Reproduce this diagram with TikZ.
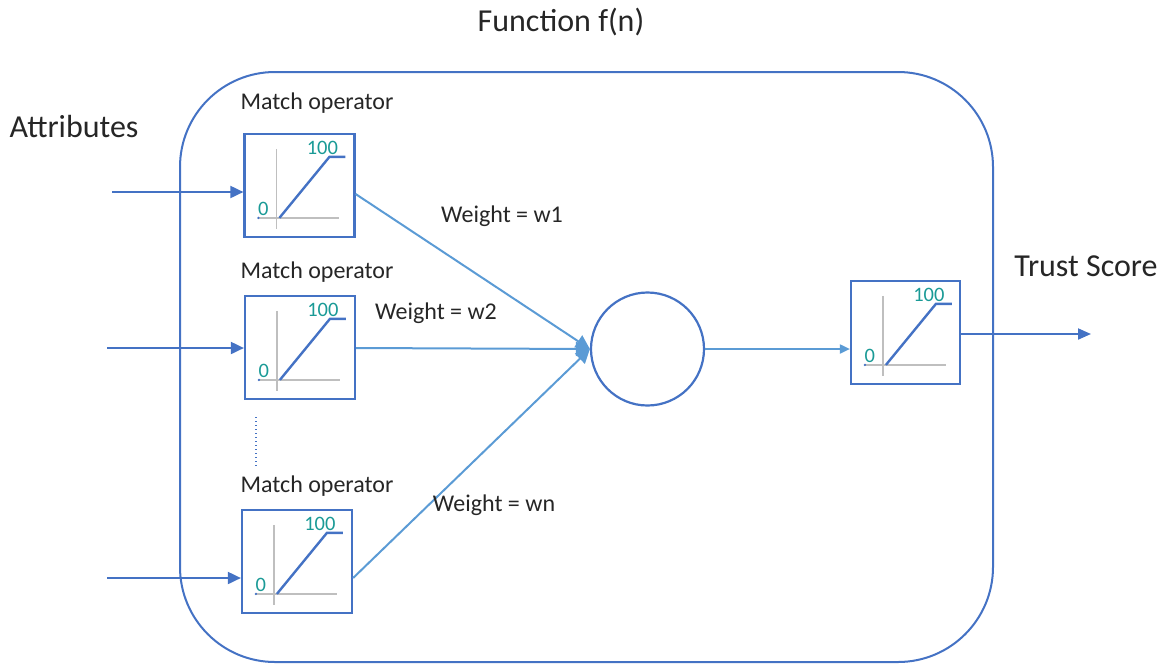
\documentclass[tikz,border=0pt]{standalone}
\usepackage{fontspec}
\setmainfont{Carlito}
\usetikzlibrary{arrows.meta}

\definecolor{darkblue}{HTML}{4472C4}
\definecolor{lightblue}{HTML}{5B9BD5}
\definecolor{axisgray}{HTML}{BFBFBF}
\definecolor{numteal}{HTML}{1A9A96}
\definecolor{ink}{HTML}{262626}

\tikzset{
  frame/.style={draw=darkblue, line width=2pt, rounded corners=95pt},
  opbox/.style={draw=darkblue, line width=2.2pt, minimum width=110pt, minimum height=103pt, inner sep=0pt},
  sumnode/.style={circle, draw=darkblue, line width=2.2pt, minimum size=113pt, inner sep=0pt},
  bigtext/.style={text=ink, font=\fontsize{32}{38}\selectfont, inner sep=0pt},
  labtext/.style={text=ink, font=\fontsize{24}{29}\selectfont, inner sep=0pt},
  numtext/.style={text=numteal, font=\fontsize{20.5}{24}\selectfont, inner sep=0pt},
  inarrow/.style={draw=darkblue, line width=1.9pt, -{Triangle[length=13pt,width=12pt]}},
  outarrow/.style={draw=darkblue, line width=1.9pt, -{Triangle[length=13pt,width=11pt]}},
  weightarrow/.style={draw=lightblue, line width=2pt, -{Triangle[length=14pt,width=14pt]}},
  sumarrow/.style={draw=lightblue, line width=1.9pt, -{Triangle[length=10pt,width=9pt]}},
  axisline/.style={draw=axisgray, line width=1.6pt},
  rampline/.style={draw=darkblue, line width=2.4pt},
  ramp/.pic={
    \draw[axisline] (33,16) -- (33,96);
    \draw[axisline] (15,85) -- (96,85);
    \fill[darkblue] (15,85) circle (1.3);
    \draw[rampline] (36,85) -- (86,24) -- (102,24);
    \node[numtext] at (79,15) {100};
    \node[numtext] at (20,76) {0};
  }
}

\begin{document}
\begin{tikzpicture}[x=1pt, y=-1pt]
\useasboundingbox (0,0) rectangle (1164,665);

% enclosing function block
\draw[frame] (180,72) rectangle (993,662);

% headings
\node[bigtext] (title) at (561,22) {Function f(n)};
\node[bigtext] (attr) at (74,127) {Attributes};
\node[bigtext] (trust) at (1086,266) {Trust Score};

% match operators
\node[labtext] (lab1) at (317,103) {Match operator};
\node[labtext] (lab2) at (317,272) {Match operator};
\node[labtext] (lab3) at (317,486) {Match operator};

\node[opbox] (m1) at (299.5,185.5) {};
\node[opbox] (m2) at (300,347.5) {};
\node[opbox] (m3) at (297,561.5) {};
\pic at (m1.north west) {ramp};
\pic at (m2.north west) {ramp};
\pic at (m3.north west) {ramp};

% elided operators
\draw[darkblue, line width=1.3pt, dash pattern=on 1.3pt off 2.7pt] (256,417) -- (256,466);

% summing node and output operator
\node[sumnode] (sum) at (647.5,349) {};
\node[opbox, minimum width=109pt] (out) at (905.5,332.5) {};
\pic at (out.north west) {ramp};

% attribute inputs
\coordinate (in1) at (112,192);
\coordinate (in2) at (107,348);
\coordinate (in3) at (107,578);
\draw[inarrow] (in1) -- (in1 -| m1.west);
\draw[inarrow] (in2) -- (in2 -| m2.west);
\draw[inarrow] (in3) -- (in3 -| m3.west);

% weighted connections
\coordinate (w1) at (355,194);
\coordinate (w2) at (353,348);
\coordinate (w3) at (353,578);
\draw[weightarrow] (w1 -| m1.east) -- (sum.west);
\draw[weightarrow] (w2 -| m2.east) -- (sum.west);
\draw[weightarrow] (w3 -| m3.east) -- (sum.west);

\node[labtext] (wl1) at (502,216) {Weight = w1};
\node[labtext] (wl2) at (436,313) {Weight = w2};
\node[labtext] (wl3) at (494,505) {Weight = wn};

% sum to output
\draw[sumarrow] (sum.east) -- (sum.east -| out.west);
\coordinate (score) at (1091,334);
\draw[outarrow] (score -| out.east) -- (score);
\end{tikzpicture}
\end{document}
